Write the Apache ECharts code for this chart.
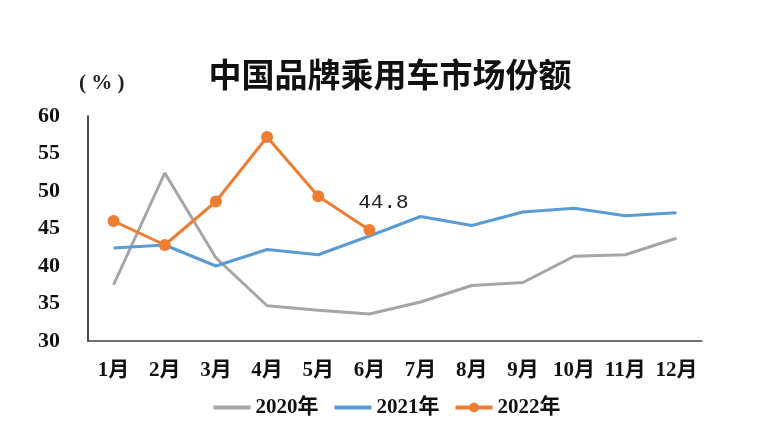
<!DOCTYPE html>
<html><head><meta charset="utf-8">
<script src="https://cdn.jsdelivr.net/npm/echarts@6/dist/echarts.min.js"></script>
<style>html,body{margin:0;padding:0;background:#fff}#c{width:772px;height:444px}</style>
</head><body><div id="c"></div>
<script>
const months = ['1月','2月','3月','4月','5月','6月','7月','8月','9月','10月','11月','12月'];
const yTicks = [30, 35, 40, 45, 50, 55, 60];
const s2020 = [37.5, 52.4, 41.1, 34.7, 34.1, 33.6, 35.2, 37.4, 37.8, 41.3, 41.5, 43.7];
const s2021 = [42.4, 42.8, 40.0, 42.2, 41.5, 44.0, 46.6, 45.4, 47.2, 47.7, 46.7, 47.1];
const s2022 = [46.0, 42.8, 48.6, 57.2, 49.3, 44.8];
const names = ['2020年', '2021年', '2022年'];
const title = '中国品牌乘用车市场份额';
const unit = '( % )';

const serif = "'Liberation Serif', 'Noto Sans CJK SC', serif";
const chart = echarts.init(document.getElementById('c'), null, {renderer: 'canvas'});
const d2022 = s2022.map((v, i) => i === s2022.length - 1 ? {
  value: v,
  label: {show: true, position: 'top', offset: [14, -6], formatter: '{c}',
    fontFamily: "'Liberation Mono', monospace", fontSize: 21, color: '#222'}
} : v);
chart.setOption({
  animation: false,
  backgroundColor: '#fff',
  title: {
    text: title, left: 385, textAlign: 'center', top: 53,
    textStyle: {fontFamily: "'Noto Sans CJK SC', sans-serif", fontWeight: 'bold', fontSize: 33, color: '#111'}
  },
  graphic: [{
    type: 'text', left: 79, top: 73,
    style: {text: unit, font: "bold 21px 'Liberation Serif', serif", fill: '#222'}
  }],
  legend: {
    data: [
      {name: names[0], itemStyle: {color: 'rgba(0,0,0,0)', borderWidth: 0}},
      {name: names[1], itemStyle: {color: 'rgba(0,0,0,0)', borderWidth: 0}},
      {name: names[2]}
    ],
    lineStyle: {width: 4},
    left: 'center', top: 392, itemWidth: 37, itemHeight: 12, itemGap: 14,
    textStyle: {fontFamily: serif, fontWeight: 'bold', fontSize: 21, color: '#111'}
  },
  grid: {left: 88, right: 70, top: 116, bottom: 103},
  xAxis: {
    type: 'category', data: months, boundaryGap: true,
    axisLine: {lineStyle: {color: '#444', width: 1.5}},
    axisTick: {show: false},
    axisLabel: {fontFamily: serif, fontWeight: 'bold', fontSize: 21, color: '#111', margin: 19, interval: 0}
  },
  yAxis: {
    type: 'value', min: yTicks[0], max: yTicks[yTicks.length - 1], interval: 5,
    axisLine: {show: true, lineStyle: {color: '#111', width: 1.5}},
    axisTick: {show: false},
    splitLine: {show: false},
    axisLabel: {fontFamily: serif, fontWeight: 'bold', fontSize: 22, color: '#111', margin: 28}
  },
  series: [
    {name: names[0], type: 'line', data: s2020, symbol: 'none',
      lineStyle: {color: '#A5A5A5', width: 3}, itemStyle: {color: '#A5A5A5'}},
    {name: names[1], type: 'line', data: s2021, symbol: 'none',
      lineStyle: {color: '#5B9BD5', width: 3}, itemStyle: {color: '#5B9BD5'}},
    {name: names[2], type: 'line', data: d2022, symbol: 'circle', symbolSize: 12,
      lineStyle: {color: '#ED7D31', width: 3}, itemStyle: {color: '#ED7D31'}}
  ]
});
</script></body></html>
